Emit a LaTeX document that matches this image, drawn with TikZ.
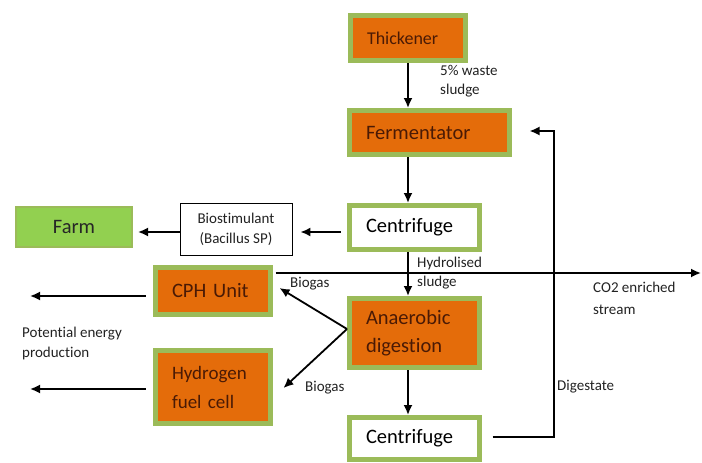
\documentclass[tikz,border=0pt]{standalone}
\usepackage{fontspec}
\setmainfont[Ligatures={NoCommon}]{Carlito}
\usetikzlibrary{arrows.meta}
\definecolor{boxorange}{HTML}{E46C0A}
\definecolor{boxgreen}{HTML}{9BBB59}
\definecolor{farmgreen}{HTML}{92D050}
\definecolor{darktext}{HTML}{4A1A05}
\definecolor{labeltext}{HTML}{222222}
\begin{document}
\begin{tikzpicture}[x=1pt,y=-1pt,
  proc/.style={draw=boxgreen, line width=5pt, inner xsep=16.5pt, inner ysep=0pt, align=left, font=\fontsize{20.5}{28}\selectfont},
  orangebox/.style={proc, fill=boxorange, text=darktext},
  whitebox/.style={proc, fill=white, text=black},
  lbl/.style={font=\fontsize{15}{19}\selectfont, anchor=west, align=left, inner sep=0pt, text=labeltext},
  arr/.style={line width=1.8pt, -{Latex[length=10pt,width=9pt]}}]
\useasboundingbox (0,0) rectangle (702,463);

\node[orangebox, text width=82pt, minimum height=45pt, font=\fontsize{18}{22}\selectfont] (thick) at (408,38) {Thickener};
\node[orangebox, text width=127pt, minimum height=44pt] (ferm) at (429.5,132.5) {Fermentator};
\node[whitebox, text width=97pt, minimum height=44pt] (cent1) at (414.5,227.5) {Centrifuge};
\node[orangebox, text width=97pt, minimum height=69pt] (anae) at (414.5,333) {Anaerobic\\digestion};
\node[whitebox, text width=97pt, minimum height=42pt] (cent2) at (414.5,438.5) {Centrifuge};
\node[orangebox, text width=82pt, minimum height=47pt] (cph) at (213,291) {CPH Unit};
\node[orangebox, text width=82pt, minimum height=73pt, font=\fontsize{19}{29}\selectfont] (hyd) at (213,387) {Hydrogen\\fuel cell};
\node[draw=boxgreen, line width=2pt, fill=farmgreen, minimum width=116pt, minimum height=40pt, font=\fontsize{20.5}{24}\selectfont, text=black!85] (farm) at (74,227) {Farm};
\node[draw=black, line width=0.8pt, fill=white, minimum width=112pt, minimum height=52pt, align=center, font=\fontsize{15}{20}\selectfont, text=labeltext] (bio) at (236,229) {Biostimulant\\(Bacillus SP)};

\coordinate (vx) at (408,0);
\coordinate (ya) at (0,232);
\coordinate (pe1) at (30,296);
\coordinate (pe2) at (30,389);
\coordinate (co2) at (701,273);
\coordinate (dx) at (554,0);

\draw[arr] (thick.south) -- (thick.south |- ferm.north);
\draw[arr] (ferm.south -| vx) -- (cent1.north -| vx);
\draw[arr] (cent1.south -| vx) -- (anae.north -| vx);
\draw[arr] (anae.south -| vx) -- (cent2.north -| vx);

\draw[arr, shorten <=6.5pt, shorten >=8pt] (cent1.west |- ya) -- (bio.east |- ya);
\draw[arr, shorten >=5pt] (bio.west |- ya) -- (farm.east |- ya);

\draw[arr, shorten <=7.5pt] (cph.west |- pe1) -- (pe1);
\draw[arr, shorten <=7.5pt] (hyd.west |- pe2) -- (pe2);

\draw[arr] ([xshift=2.5pt]cph.east |- co2) -- (co2);

\draw[arr] ([yshift=4pt]anae.west) -- ([xshift=6.5pt,yshift=3pt]cph.east);
\draw[arr] ([yshift=4pt]anae.west) -- ([xshift=10.5pt,yshift=-1pt]hyd.east);

\draw[arr] ([xshift=10.5pt,yshift=1.5pt]cent2.east) -- ([yshift=1.5pt]cent2.east -| dx) -- ([yshift=1.5pt]ferm.east -| dx) -- ([xshift=17.5pt,yshift=1.5pt]ferm.east);

\node[lbl] (l5) at (440,81.5) {5\% waste\\sludge};
\node[lbl] (lhyd) at (417,273.5) {Hydrolised\\sludge};
\node[lbl, font=\fontsize{15}{22}\selectfont] (lco2) at (593,298) {CO2 enriched\\stream};
\node[lbl] (ldig) at (557,387) {Digestate};
\node[lbl] (lbg1) at (290,284) {Biogas};
\node[lbl] (lbg2) at (305,388) {Biogas};
\node[lbl, font=\fontsize{15}{20}\selectfont] (lpe) at (22,343) {Potential energy\\production};
\end{tikzpicture}
\end{document}
